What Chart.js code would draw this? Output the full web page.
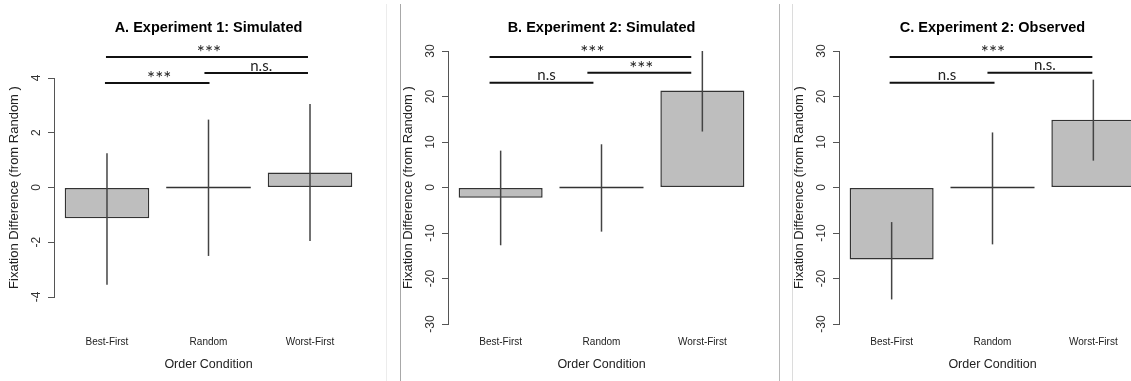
<!DOCTYPE html>
<html>
<head>
<meta charset="utf-8">
<script src="https://cdn.jsdelivr.net/npm/chart.js@4.4.1/dist/chart.umd.min.js"></script>
<style>
  html, body { margin: 0; padding: 0; background: #fff; overflow: hidden; }
  body { width: 1131px; height: 381px; position: relative; }
  canvas { position: absolute; top: 0; }
  .rule { position: absolute; top: 4px; bottom: 0; width: 1px; }
</style>
</head>
<body>
<div class="rule" style="left:386px;background:#ececec"></div>
<div class="rule" style="left:400px;background:#a8a8a8"></div>
<div class="rule" style="left:779px;background:#b8b8b8"></div>
<div class="rule" style="left:792px;background:#dcdcdc"></div>
<canvas id="panelA" width="391" height="381" style="left:-6px"></canvas>
<canvas id="panelB" width="391" height="381" style="left:388px"></canvas>
<canvas id="panelC" width="391" height="381" style="left:779px"></canvas>
<script>
const conditions = ['Best-First', 'Random', 'Worst-First'];

// mean fixation difference from Random, with interval ends
const exp1SimMeans = [-1.12, 0, 0.55];
const exp1SimLow = [-3.55, -2.5, -1.95];
const exp1SimHigh = [1.25, 2.48, 3.05];

const exp2SimMeans = [-2.25, 0, 21.3];
const exp2SimLow = [-12.7, -9.7, 12.3];
const exp2SimHigh = [8.1, 9.5, 30];

const exp2ObsMeans = [-15.85, 0, 14.9];
const exp2ObsLow = [-24.6, -12.5, 5.9];
const exp2ObsHigh = [-7.6, 12.1, 23.7];

const exp1Ticks = [-4, -2, 0, 2, 4];
const exp2Ticks = [-30, -20, -10, 0, 10, 20, 30];

// pairwise tests: [from, to, height, label]
const exp1SimTests = [[0.99, 2.98, 4.77, '***'], [1.96, 2.98, 4.18, 'n.s.'], [0.98, 2.01, 3.82, '***']];
const exp2SimTests = [[0.89, 2.89, 28.7, '***'], [1.86, 2.89, 25.2, '***'], [0.89, 1.92, 23.0, 'n.s']];
const exp2ObsTests = [[0.98, 2.99, 28.7, '***'], [1.95, 2.99, 25.2, 'n.s.'], [0.98, 2.02, 23.0, 'n.s']];

const sans = 'Liberation Sans, Arial, sans-serif';

function drawPanel(id, p) {
    // error bars, flat bars and comparison brackets on top of the bars
    const marks = {
        id: 'marks',
        afterDatasetsDraw(chart) {
            const { ctx, scales: { x, y } } = chart;
            ctx.save();
            chart.getDatasetMeta(0).data.forEach((bar, i) => {
                if (p.means[i] !== 0) return;
                ctx.strokeStyle = '#333';
                ctx.lineWidth = 1.5;
                ctx.beginPath();
                ctx.moveTo(bar.x - bar.width / 2, bar.y);
                ctx.lineTo(bar.x + bar.width / 2, bar.y);
                ctx.stroke();
            });
            ctx.strokeStyle = '#444';
            ctx.lineWidth = 1.5;
            p.low.forEach((lo, i) => {
                const px = x.getPixelForValue(i + 1);
                ctx.beginPath();
                ctx.moveTo(px, y.getPixelForValue(lo));
                ctx.lineTo(px, y.getPixelForValue(p.high[i]));
                ctx.stroke();
            });
            ctx.strokeStyle = '#111';
            ctx.lineWidth = 2;
            ctx.fillStyle = '#222';
            ctx.textAlign = 'center';
            ctx.textBaseline = 'alphabetic';
            p.tests.forEach(([a, b, h, label]) => {
                const x1 = x.getPixelForValue(a);
                const x2 = x.getPixelForValue(b);
                const py = y.getPixelForValue(h);
                ctx.beginPath();
                ctx.moveTo(x1, py);
                ctx.lineTo(x2, py);
                ctx.stroke();
                const stars = label === '***';
                ctx.font = stars ? '19px Lato' : '15px Lato';
                ctx.fillText(label, (x1 + x2) / 2 + (stars ? 2 : 5), stars ? py + 2.5 : py - 2.5);
            });
            ctx.restore();
        }
    };

    new Chart(document.getElementById(id), {
        type: 'bar',
        data: {
            datasets: [{
                data: p.means.map((v, i) => ({ x: i + 1, y: v })),
                backgroundColor: '#bebebe',
                borderColor: '#333',
                borderWidth: 1.5,
                borderSkipped: false,
                categoryPercentage: 1,
                barPercentage: 0.833
            }]
        },
        options: {
            responsive: false,
            animation: false,
            events: [],
            layout: { padding: { left: 0, right: p.padRight, top: 0, bottom: 0 } },
            plugins: {
                legend: { display: false },
                tooltip: { enabled: false },
                title: {
                    display: true,
                    text: p.title,
                    fullSize: false,
                    color: '#000',
                    font: { family: sans, size: 14.5, weight: 'bold' },
                    padding: { top: 19.3, bottom: p.titleGap }
                }
            },
            scales: {
                x: {
                    type: 'linear',
                    offset: false,
                    min: 0.478,
                    max: 3.522,
                    afterBuildTicks: s => { s.ticks = conditions.map((c, i) => ({ value: i + 1 })); },
                    afterFit: s => { s.height = p.xHeight; },
                    ticks: {
                        callback: v => conditions[v - 1],
                        padding: p.labelGap,
                        autoSkip: false,
                        minRotation: 0,
                        maxRotation: 0,
                        color: '#222',
                        font: { family: sans, size: 10 }
                    },
                    grid: { display: false, drawTicks: false, offset: false },
                    border: { display: false },
                    title: {
                        display: true,
                        text: 'Order Condition',
                        color: '#222',
                        font: { family: sans, size: 12.5 },
                        padding: { top: 0, bottom: 8.5 }
                    }
                },
                y: {
                    min: p.ticks[0],
                    max: p.ticks[p.ticks.length - 1],
                    afterBuildTicks: s => { s.ticks = p.ticks.map(v => ({ value: v })); },
                    afterFit: s => { s.width = 60; },
                    ticks: {
                        minRotation: 90,
                        maxRotation: 90,
                        crossAlign: 'center',
                        padding: p.tickGap,
                        color: '#333',
                        font: { family: sans, size: 12 }
                    },
                    grid: { drawOnChartArea: false, tickLength: 6, color: '#555' },
                    border: { color: '#555' },
                    title: {
                        display: true,
                        text: 'Fixation Difference (from Random )',
                        color: '#222',
                        font: { family: sans, size: 13 },
                        padding: { top: 12.2, bottom: 0 }
                    }
                }
            }
        },
        plugins: [marks]
    });
}

drawPanel('panelA', {
    title: 'A. Experiment 1: Simulated',
    means: exp1SimMeans, low: exp1SimLow, high: exp1SimHigh,
    ticks: exp1Ticks, tests: exp1SimTests,
    padRight: 22, titleGap: 41.3, xHeight: 84, labelGap: 39.5, tickGap: 6
});

drawPanel('panelB', {
    title: 'B. Experiment 2: Simulated',
    means: exp2SimMeans, low: exp2SimLow, high: exp2SimHigh,
    ticks: exp2Ticks, tests: exp2SimTests,
    padRight: 24, titleGap: 14.3, xHeight: 57, labelGap: 12.5, tickGap: 3
});

drawPanel('panelC', {
    title: 'C. Experiment 2: Observed',
    means: exp2ObsMeans, low: exp2ObsLow, high: exp2ObsHigh,
    ticks: exp2Ticks, tests: exp2ObsTests,
    padRight: 24, titleGap: 14.3, xHeight: 57, labelGap: 12.5, tickGap: 3
});
</script>
</body>
</html>
